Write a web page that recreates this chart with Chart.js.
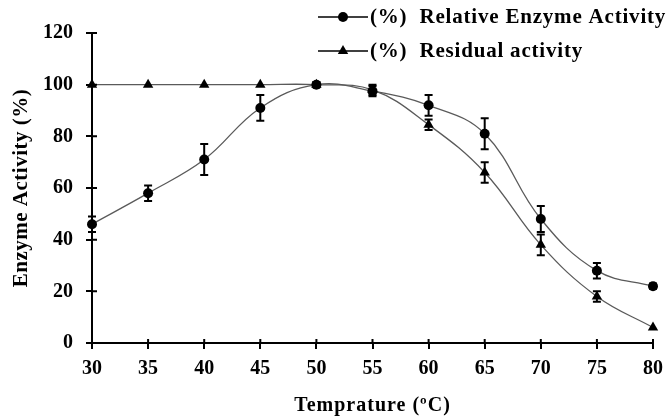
<!DOCTYPE html>
<html>
<head>
<meta charset="utf-8">
<script src="https://cdn.jsdelivr.net/npm/chart.js@4/dist/chart.umd.min.js"></script>
<style>
  html, body { margin: 0; padding: 0; background: #fff; }
  #wrap { width: 671px; height: 417px; }
</style>
</head>
<body>
<div id="wrap"><canvas id="enzyme"></canvas></div>
<script>
// temperatures (ºC)
var temps = [30, 35, 40, 45, 50, 55, 60, 65, 70, 75, 80];
// (%) relative enzyme activity and its error
var relActivity = [46, 58, 71, 91, 100, 97.5, 92, 81, 48, 28, 22];
var relError = [3, 3, 6, 5, 1, 2, 4, 6, 5, 3, 1];
// (%) residual activity and its error
var resActivity = [100, 100, 100, 100, 100, 98, 84.5, 66, 38, 18, 6];
var resError = [0, 0, 0, 0, 0, 2, 2, 4, 4, 2, 0];
var xTitle = 'Temprature (ºC)';
var yTitle = 'Enzyme Activity (%)';

var serif = "'Liberation Serif', 'Times New Roman', serif";
var lineGrey = '#5a5a5a';

function points(values) {
  return temps.map(function (t, i) { return { x: t, y: values[i] }; });
}

// vertical error bars with caps, drawn under the markers
var errorBars = {
  id: 'errorBars',
  beforeDatasetsDraw: function (chart) {
    var ctx = chart.ctx;
    var ys = chart.scales.y, xs = chart.scales.x;
    ctx.save();
    ctx.strokeStyle = '#000';
    ctx.lineWidth = 2;
    chart.data.datasets.forEach(function (ds) {
      ds.data.forEach(function (p, i) {
        var e = ds.errors[i];
        if (!e) return;
        var px = xs.getPixelForValue(p.x);
        var top = ys.getPixelForValue(p.y + e);
        var bot = ys.getPixelForValue(p.y - e);
        ctx.beginPath();
        ctx.moveTo(px, top); ctx.lineTo(px, bot);
        ctx.moveTo(px - 4, top); ctx.lineTo(px + 4, top);
        ctx.moveTo(px - 4, bot); ctx.lineTo(px + 4, bot);
        ctx.stroke();
      });
    });
    ctx.restore();
  }
};

// Excel style "cross" ticks plus the two axis titles (letter spaced)
var axisExtras = {
  id: 'axisExtras',
  afterDraw: function (chart) {
    var ctx = chart.ctx, a = chart.chartArea;
    ctx.save();
    ctx.strokeStyle = '#000';
    ctx.lineWidth = 2;
    ctx.beginPath();
    chart.scales.y.ticks.forEach(function (t) {
      var py = chart.scales.y.getPixelForValue(t.value);
      ctx.moveTo(a.left, py); ctx.lineTo(a.left + 5, py);
    });
    chart.scales.x.ticks.forEach(function (t) {
      var px = chart.scales.x.getPixelForValue(t.value);
      ctx.moveTo(px, a.bottom); ctx.lineTo(px, a.bottom - 4);
    });
    ctx.stroke();

    ctx.fillStyle = '#000';
    ctx.textAlign = 'center';
    ctx.textBaseline = 'middle';
    ctx.font = 'bold 20px ' + serif;
    ctx.letterSpacing = '1px';
    ctx.fillText(xTitle, (a.left + a.right) / 2, 406);

    ctx.font = 'bold 21px ' + serif;
    ctx.letterSpacing = '0.5px';
    ctx.translate(22, (a.top + a.bottom) / 2);
    ctx.rotate(-Math.PI / 2);
    ctx.fillText(yTitle, 0, 0);
    ctx.restore();
  }
};

// legend in the top right corner, sitting over the plot
var cornerLegend = {
  id: 'cornerLegend',
  afterDraw: function (chart) {
    var ctx = chart.ctx;
    var rows = [17, 51];
    ctx.save();
    ctx.font = 'bold 21px ' + serif;
    ctx.letterSpacing = '0.8px';
    ctx.textBaseline = 'middle';
    chart.data.datasets.forEach(function (ds, i) {
      var y = rows[i];
      ctx.strokeStyle = '#000';
      ctx.lineWidth = 1.5;
      ctx.beginPath();
      ctx.moveTo(318, y); ctx.lineTo(368, y);
      ctx.stroke();
      ctx.fillStyle = '#000';
      Chart.helpers.drawPoint(ctx, {
        pointStyle: ds.pointStyle, radius: ds.pointRadius, borderWidth: 0
      }, 343, y);
      ctx.fillText(ds.label, 370, y + 1);
    });
    ctx.restore();
  }
};

new Chart(document.getElementById('enzyme'), {
  type: 'line',
  data: {
    datasets: [{
      label: '(%)  Relative Enzyme Activity',
      data: points(relActivity),
      errors: relError,
      borderColor: lineGrey,
      borderWidth: 1.3,
      tension: 0.4,
      pointStyle: 'circle',
      pointRadius: 5,
      pointBackgroundColor: '#000',
      pointBorderColor: '#000',
      pointBorderWidth: 0,
      clip: false
    }, {
      label: '(%)  Residual activity',
      data: points(resActivity),
      errors: resError,
      borderColor: lineGrey,
      borderWidth: 1.3,
      tension: 0.4,
      pointStyle: 'triangle',
      pointRadius: 6,
      pointBackgroundColor: '#000',
      pointBorderColor: '#000',
      pointBorderWidth: 0,
      clip: false
    }]
  },
  options: {
    responsive: true,
    maintainAspectRatio: false,
    animation: false,
    layout: { padding: { left: 0, right: 15, top: 33, bottom: 0 } },
    plugins: {
      legend: { display: false },
      tooltip: { enabled: false }
    },
    scales: {
      x: {
        type: 'linear',
        min: 30,
        max: 80,
        ticks: { stepSize: 5, color: '#000', padding: 8, font: { family: serif, size: 20, weight: 'bold' } },
        grid: { drawOnChartArea: false, color: '#000', lineWidth: 2, tickLength: 6 },
        border: { color: '#000', width: 2 },
        afterFit: function (s) { s.height = 74; }
      },
      y: {
        min: 0,
        max: 120,
        ticks: { stepSize: 20, color: '#000', padding: 13, font: { family: serif, size: 20, weight: 'bold' } },
        grid: { drawOnChartArea: false, color: '#000', lineWidth: 2, tickLength: 6 },
        border: { color: '#000', width: 2 },
        afterFit: function (s) { s.width = 92; }
      }
    }
  },
  plugins: [errorBars, axisExtras, cornerLegend]
});
</script>
</body>
</html>
